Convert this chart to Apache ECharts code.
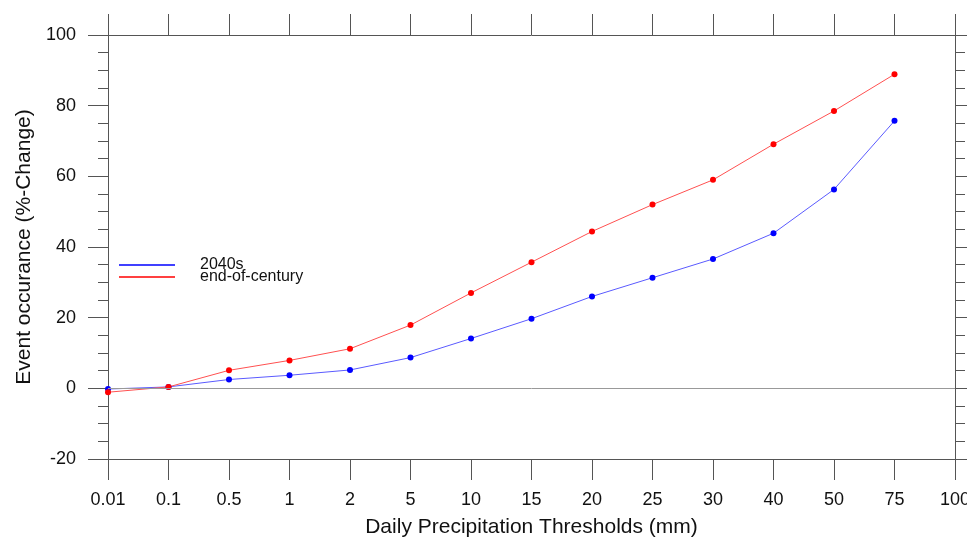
<!DOCTYPE html>
<html>
<head>
<meta charset="utf-8">
<script src="https://cdn.jsdelivr.net/npm/echarts@6/dist/echarts.min.js"></script>
<style>
  html, body { margin: 0; padding: 0; background: #fff; }
  #chart { width: 967px; height: 541px; }
</style>
</head>
<body>
<div id="chart"></div>
<script>
// thresholds (mm)
var thresholds = ['0.01', '0.1', '0.5', '1', '2', '5', '10', '15', '20', '25', '30', '40', '50', '75', '100'];
// % change in event occurrence
var mid2040s = [-0.2, 0.4, 2.5, 3.7, 5.2, 8.7, 14.1, 19.7, 26.0, 31.3, 36.6, 43.9, 56.3, 75.7];
var endCentury = [-1.1, 0.4, 5.1, 7.9, 11.2, 17.9, 27.0, 35.7, 44.4, 52.0, 59.0, 69.1, 78.5, 88.9];
var yMin = -20, yMax = 100, yStep = 20;

var axisGray = '#555';
var font = 'Liberation Sans, Arial, sans-serif';

var chart = echarts.init(document.getElementById('chart'));

var option = {
  animation: false,
  grid: { left: 108, right: 12, top: 35, bottom: 82, containLabel: false, outerBoundsMode: 'none' },
  legend: {
    orient: 'vertical',
    left: 114,
    top: 252,
    icon: 'rect',
    itemWidth: 56,
    itemHeight: 1.5,
    itemGap: -4,
    textStyle: { fontFamily: font, fontSize: 16, color: '#111', padding: [0, 0, 0, 20] },
    data: ['2040s', 'end-of-century']
  },
  xAxis: [{
    type: 'category',
    data: thresholds,
    boundaryGap: false,
    position: 'bottom',
    name: 'Daily Precipitation Thresholds (mm)',
    nameLocation: 'middle',
    nameGap: 58,
    nameTextStyle: { fontFamily: font, fontSize: 21, color: '#111' },
    axisLine: { onZero: false, lineStyle: { color: axisGray, width: 1 } },
    axisTick: { length: 21, lineStyle: { color: axisGray } },
    axisLabel: { interval: 0, margin: 32, fontFamily: font, fontSize: 18, color: '#111' },
    splitLine: { show: false }
  }, {
    type: 'category',
    data: thresholds,
    boundaryGap: false,
    position: 'top',
    axisLine: { onZero: false, lineStyle: { color: axisGray, width: 1 } },
    axisTick: { length: 21, lineStyle: { color: axisGray } },
    axisLabel: { show: false },
    splitLine: { show: false }
  }],
  yAxis: [{
    type: 'value',
    min: yMin,
    max: yMax,
    interval: yStep,
    position: 'left',
    name: 'Event occurance (%-Change)',
    nameLocation: 'middle',
    nameGap: 72,
    nameTextStyle: { fontFamily: font, fontSize: 21, color: '#111' },
    axisLine: { show: true, lineStyle: { color: axisGray, width: 1 } },
    axisTick: { show: true, length: 20, lineStyle: { color: axisGray } },
    minorTick: { show: true, splitNumber: 4, length: 10, lineStyle: { color: axisGray } },
    axisLabel: { margin: 32, fontFamily: font, fontSize: 18, color: '#111' },
    splitLine: { show: false }
  }, {
    type: 'value',
    min: yMin,
    max: yMax,
    interval: yStep,
    position: 'right',
    axisLine: { show: true, lineStyle: { color: axisGray, width: 1 } },
    axisTick: { show: true, length: 20, lineStyle: { color: axisGray } },
    minorTick: { show: true, splitNumber: 4, length: 10, lineStyle: { color: axisGray } },
    axisLabel: { show: false },
    splitLine: { show: false }
  }],
  series: [{
    name: '2040s',
    type: 'line',
    data: mid2040s,
    color: '#0000ff',
    symbol: 'circle',
    symbolSize: 6,
    lineStyle: { width: 1, color: '#5a5aff' },
    itemStyle: { color: '#0000ff' },
    markLine: {
      silent: true,
      symbol: 'none',
      label: { show: false },
      lineStyle: { color: '#999', width: 1, type: 'solid' },
      data: [{ yAxis: 0 }]
    }
  }, {
    name: 'end-of-century',
    type: 'line',
    data: endCentury,
    color: '#ff0000',
    symbol: 'circle',
    symbolSize: 6,
    lineStyle: { width: 1, color: '#ff5050' },
    itemStyle: { color: '#ff0000' }
  }]
};

chart.setOption(option);
</script>
</body>
</html>
